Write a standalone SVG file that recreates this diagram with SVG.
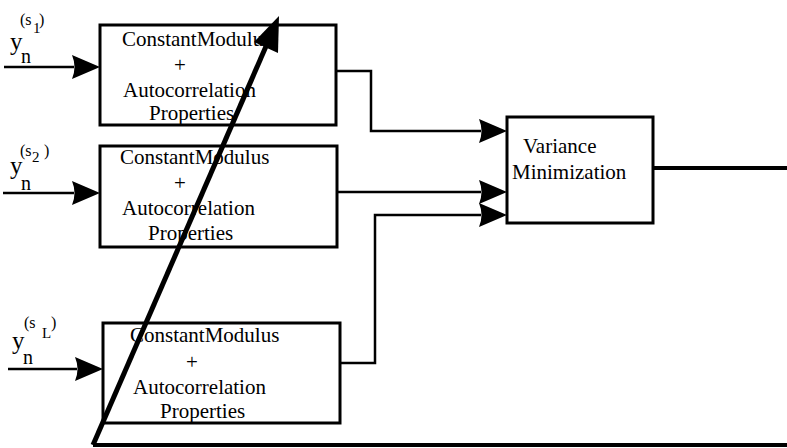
<svg xmlns="http://www.w3.org/2000/svg" width="787" height="448" viewBox="0 0 787 448" font-family="'Liberation Serif', 'Times New Roman', Times, serif">
<style>
.box{fill:#fff;stroke:#000;stroke-width:3}
.t{font-family:'Liberation Serif','Times New Roman',Times,serif;font-size:21px;fill:#000}
.ln{fill:none;stroke:#000;stroke-width:2.5}
.ah{fill:#000;stroke:none}
.lbl{font-family:'Liberation Serif','Times New Roman',Times,serif;fill:#000}
</style>
<rect width="787" height="448" fill="#fff"/>
<g id="connectors">
  <line class="ln" x1="4" y1="67" x2="74" y2="67"/>
  <path class="ah" d="M72,55 L100,67 L72,79 Q77,67 72,55 Z"/>
  <line class="ln" x1="3" y1="193" x2="74" y2="193"/>
  <path class="ah" d="M72,181 L100,193 L72,205 Q77,193 72,181 Z"/>
  <line class="ln" x1="8" y1="369" x2="77" y2="369"/>
  <path class="ah" d="M75,357 L103,369 L75,381 Q80,369 75,357 Z"/>
  <polyline class="ln" points="336,71 371,71 371,131 481,131"/>
  <path class="ah" d="M479,119 L507,131 L479,143 Q484,131 479,119 Z"/>
  <line class="ln" x1="337" y1="192" x2="481" y2="192"/>
  <path class="ah" d="M479,180 L507,192 L479,204 Q484,192 479,180 Z"/>
  <polyline class="ln" points="340,363 375,363 375,215 481,215"/>
  <path class="ah" d="M479,203 L507,215 L479,227 Q484,215 479,203 Z"/>
  <line x1="653" y1="168" x2="787" y2="168" stroke="#000" stroke-width="4"/>
</g>
<g id="node1">
  <rect class="box" x="100" y="25" width="236" height="100"/>
  <text class="t" x="122" y="46">ConstantModulus</text>
  <text class="t" x="174" y="72">+</text>
  <text class="t" x="123" y="97">Autocorrelation</text>
  <text class="t" x="149" y="120">Properties</text>
</g>
<g id="node2">
  <rect class="box" x="100" y="146" width="237" height="101"/>
  <text class="t" x="120" y="164">ConstantModulus</text>
  <text class="t" x="174" y="190">+</text>
  <text class="t" x="122" y="215">Autocorrelation</text>
  <text class="t" x="148" y="240">Properties</text>
</g>
<g id="node3">
  <rect class="box" x="103" y="323" width="237" height="100"/>
  <text class="t" x="130" y="342">ConstantModulus</text>
  <text class="t" x="186" y="369">+</text>
  <text class="t" x="133" y="394">Autocorrelation</text>
  <text class="t" x="160" y="418">Properties</text>
</g>
<g id="variance">
  <rect class="box" x="507" y="117" width="146" height="106"/>
  <text class="t" x="523" y="153">Variance</text>
  <text class="t" x="512" y="179">Minimization</text>
</g>
<g id="label1">
  <text class="lbl"><tspan x="10" y="50" font-size="25">y</tspan><tspan x="21" y="63" font-size="20">n</tspan><tspan x="20" y="25" font-size="16">(s</tspan><tspan x="33" y="33" font-size="15">1</tspan><tspan x="39" y="25" font-size="16">)</tspan></text>
</g>
<g id="label2">
  <text class="lbl"><tspan x="10" y="174" font-size="25">y</tspan><tspan x="21" y="190" font-size="20">n</tspan><tspan x="20" y="156" font-size="16">(s</tspan><tspan x="32" y="162" font-size="15">2</tspan><tspan x="44" y="156" font-size="16">)</tspan></text>
</g>
<g id="labelL">
  <text class="lbl"><tspan x="12" y="349" font-size="25">y</tspan><tspan x="23" y="364" font-size="20">n</tspan><tspan x="24" y="328" font-size="16">(s</tspan><tspan x="42" y="338" font-size="15">L</tspan><tspan x="51" y="328" font-size="16">)</tspan></text>
</g>
<g id="overlay">
  <line x1="93" y1="445" x2="787" y2="445" stroke="#000" stroke-width="4"/>
  <line x1="93" y1="445" x2="267" y2="44" stroke="#000" stroke-width="5"/>
  <path d="M279,16 L278,53 L254,42 Z" fill="#000"/>
</g>
</svg>
